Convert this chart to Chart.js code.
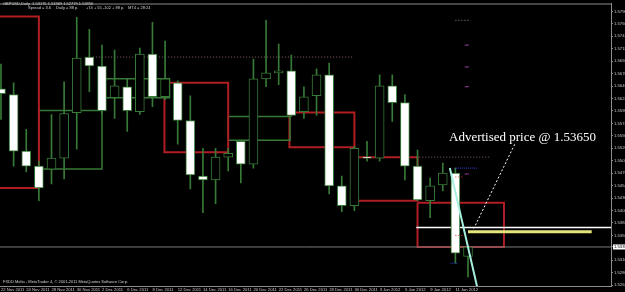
<!DOCTYPE html>
<html>
<head>
<meta charset="utf-8">
<script src="https://cdn.jsdelivr.net/npm/chart.js@4.4.0/dist/chart.umd.min.js"></script>
<style>
html, body { margin: 0; padding: 0; background: #000; }
#chart { display: block; }
</style>
</head>
<body>
<canvas id="chart" width="625" height="292"></canvas>
<script>
// GBPUSD daily bars, 22 Nov 2011 .. 12 Jan 2012
const dates = ['22 Nov 2011', '23 Nov 2011', '24 Nov 2011', '25 Nov 2011', '28 Nov 2011', '29 Nov 2011', '30 Nov 2011',
  '1 Dec 2011', '2 Dec 2011', '5 Dec 2011', '6 Dec 2011', '7 Dec 2011', '8 Dec 2011', '9 Dec 2011',
  '12 Dec 2011', '13 Dec 2011', '14 Dec 2011', '15 Dec 2011', '16 Dec 2011', '19 Dec 2011', '20 Dec 2011',
  '21 Dec 2011', '22 Dec 2011', '23 Dec 2011', '26 Dec 2011', '27 Dec 2011', '28 Dec 2011', '29 Dec 2011',
  '30 Dec 2011', '2 Jan 2012', '3 Jan 2012', '4 Jan 2012', '5 Jan 2012', '6 Jan 2012', '9 Jan 2012',
  '10 Jan 2012', '11 Jan 2012', '12 Jan 2012'];
const opens = [1.56408, 1.56294, 1.55204, 1.54917, 1.54859, 1.55070, 1.55949, 1.57020, 1.56848, 1.56236,
  1.56447, 1.55968, 1.57078, 1.56255, 1.56523, 1.55796, 1.54725, 1.54649, 1.55089, 1.55395,
  1.54955, 1.56600, 1.56714, 1.56753, 1.55968, 1.56274, 1.56676, 1.54534, 1.54152, 1.55089,
  1.55070, 1.56466, 1.56141, 1.54917, 1.54247, 1.54553, 1.54783, 1.53175];
const highs = [1.56886, 1.56523, 1.55624, 1.55012, 1.55911, 1.56542, 1.57785, 1.57556, 1.57250, 1.57154,
  1.56600, 1.57192, 1.57690, 1.57326, 1.56561, 1.56274, 1.55261, 1.55261, 1.55261, 1.55414,
  1.56982, 1.57728, 1.57269, 1.57059, 1.56447, 1.56791, 1.56906, 1.54725, 1.55299, 1.55395,
  1.56676, 1.56676, 1.56294, 1.55223, 1.54687, 1.54974, 1.54878, 1.53369];
const lows = [1.55815, 1.54917, 1.54802, 1.54247, 1.54572, 1.54668, 1.55242, 1.56351, 1.55930, 1.55835,
  1.55586, 1.55911, 1.56064, 1.56198, 1.55337, 1.54477, 1.54018, 1.54190, 1.54821, 1.54592,
  1.54878, 1.56447, 1.56485, 1.55873, 1.55835, 1.55892, 1.54381, 1.54037, 1.54056, 1.55012,
  1.55012, 1.55777, 1.54649, 1.54247, 1.53922, 1.54439, 1.53043, 1.52779];
const closes = [1.56313, 1.55204, 1.54917, 1.54496, 1.55070, 1.55930, 1.57001, 1.56848, 1.55988, 1.56466,
  1.55988, 1.57078, 1.56255, 1.56600, 1.55796, 1.54745, 1.54649, 1.55089, 1.55165, 1.54955,
  1.56600, 1.56714, 1.56753, 1.55892, 1.56255, 1.56676, 1.54534, 1.54152, 1.55261, 1.55070,
  1.56466, 1.56141, 1.54917, 1.54266, 1.54534, 1.54783, 1.53234, 1.53356];

// weekly open/close boxes (x in bar index units)
const weekStart = [-2, 3, 8, 12.95, 18, 22.85, 28, 33];
const weekEnd = [3, 8, 13.35, 18, 22.9, 28, 33, 39.85];
const weekOpen = [1.57804, 1.54859, 1.56236, 1.56523, 1.55414, 1.55949, 1.55089, 1.54209];
const weekClose = [1.54496, 1.55988, 1.56600, 1.55184, 1.55873, 1.55280, 1.54247, 1.53356];

// small indicator marks above the last bars
const markX = [36.9, 36.9, 36.9, 36.9];
const markY = [1.57250, 1.56829, 1.56447, 1.54764];

// price axis labels
const yTicks = [1.5790, 1.5766, 1.5742, 1.5718, 1.5694, 1.5670, 1.5646, 1.5622, 1.5598, 1.5574, 1.5550,
  1.5526, 1.5502, 1.5478, 1.5454, 1.5430, 1.5406, 1.5382, 1.5358, 1.53356, 1.5310, 1.5286, 1.5262];

const BID = 1.53356;
const ADVERTISED = 1.53650;
const WHITE_LEVEL = 1.53731;
const OLD_HIGH = 1.57020;
const OLD_LEVEL = 1.55089;
const TOP_LEVEL = 1.57728;

// trend line and pointer
const trendX = [35.56, 37.75];
const trendY = [1.54878, 1.52560];
const pointerX = [40.7, 37.46];
const pointerY = [1.55337, 1.53712];

const XMIN = -0.08, XMAX = 48.33;
const YMIN = 1.52603, YMAX = 1.58053;

const GREEN = '#377a37';
const RED = '#b01e24';

function seg(xs, ys, color, width, dash, order) {
  return {
    type: 'line',
    data: xs.map((x, i) => ({ x, y: ys[i] })),
    borderColor: color, borderWidth: width, borderDash: dash || [],
    pointRadius: 0, fill: false, tension: 0, order
  };
}

const boxes = weekStart.map((s, i) => {
  const e = weekEnd[i], o = weekOpen[i], c = weekClose[i];
  const up = c > o;
  return seg([s, e, e, s, s], [o, o, c, c, o], up ? GREEN : RED, up ? 1.5 : 2, null, 5);
});

const datasets = [
  seg(trendX, trendY, '#a6efdf', 2, null, 0),
  seg([35.9, 37.8], [1.54878, 1.54878], '#3040d0', 1, [1, 1], 0),
  seg([35.6, 36.2], [1.53043, 1.53043], '#3040d0', 1, [1, 1], 0),
  seg([36.0, 36.6], [1.53578, 1.53578], '#c03030', 1, [1, 2], 0),
  seg([36.0, 36.6], [1.54706, 1.54706], '#c03030', 1, [1, 2], 0),
  {
    type: 'line', order: 0, showLine: false,
    data: markX.map((x, i) => ({ x, y: markY[i] })),
    pointStyle: 'line', pointRadius: 2, borderColor: '#a040a0', borderWidth: 1
  },
  {
    type: 'bar', order: 1, grouped: false, barThickness: 9,
    data: dates.map((d, i) => ({ x: i, y: [opens[i], closes[i]] })),
    backgroundColor: dates.map((d, i) => closes[i] >= opens[i] ? '#000' : '#fff'),
    borderColor: GREEN, borderWidth: 1, borderSkipped: false
  },
  {
    type: 'bar', order: 2, grouped: false, barThickness: 1,
    data: dates.map((d, i) => ({ x: i, y: [lows[i], highs[i]] })),
    backgroundColor: GREEN, borderWidth: 0
  },
  seg(pointerX, pointerY, '#ffffff', 1, [2, 2], 0),
  seg([37, 46.8], [ADVERTISED, ADVERTISED], '#e4e47a', 3, null, 3),
  seg([32.9, XMAX], [WHITE_LEVEL, WHITE_LEVEL], '#ffffff', 1.5, null, 3),
  seg([XMIN, XMAX], [BID, BID], '#7c7c7c', 1, null, 3),
  seg([7.3, 27.9], [OLD_HIGH, OLD_HIGH], '#8a6262', 1, [1, 2], 3),
  seg([32.9, 38.7], [OLD_LEVEL, OLD_LEVEL], '#8a6262', 1, [1, 2], 3),
  seg([36.0, 37.2], [TOP_LEVEL, TOP_LEVEL], '#8a8a8a', 1, [1, 2], 3),
  ...boxes
];

const textPlugin = {
  id: 'texts',
  afterDraw(chart) {
    const ctx = chart.ctx, a = chart.chartArea;
    ctx.save();
    ctx.strokeStyle = '#8c8c8c';
    ctx.lineWidth = 1;
    ctx.beginPath();
    ctx.moveTo(0, a.top + 0.5);
    ctx.lineTo(a.right, a.top + 0.5);
    ctx.stroke();
    ctx.fillStyle = '#d0d0d0';
    ctx.textBaseline = 'middle';
    ctx.font = '4px "Liberation Sans"';
    ctx.fillText('GBPUSD,Daily  1.53175 1.53369 1.52779 1.53356', 3, 4);
    ctx.fillText('Spread = 3.6', 28, 8);
    ctx.fillText('Daily = 88 p.', 56, 8);
    ctx.fillText('+74 + 55 -102 + 88 p.', 86, 8);
    ctx.fillText('MT4 = 28:24', 128, 8);
    ctx.fillText('FXDD Malta - MetaTrader 4, \u00a9 2001-2011 MetaQuotes Software Corp.', 3, 282);
    ctx.fillStyle = '#ffffff';
    ctx.textBaseline = 'alphabetic';
    ctx.font = '13px "Liberation Serif"';
    ctx.fillText('Advertised price @ 1.53650', 449, 141);
    ctx.restore();
  }
};

new Chart(document.getElementById('chart'), {
  type: 'bar',
  data: { datasets },
  options: {
    responsive: false,
    animation: false,
    layout: { autoPadding: false, padding: { top: 1, left: 0, right: 0, bottom: 0 } },
    plugins: { legend: { display: false }, tooltip: { enabled: false } },
    scales: {
      x: {
        type: 'linear', min: XMIN, max: XMAX, offset: false,
        afterFit: s => { s.height = 6; },
        afterBuildTicks: s => { s.ticks = dates.map((d, i) => i).filter(i => i % 2 === 0).map(v => ({ value: v })); },
        grid: { drawOnChartArea: false, drawTicks: true, tickLength: 1, color: '#8c8c8c', offset: false },
        border: { display: true, color: '#8c8c8c' },
        ticks: {
          autoSkip: false, maxRotation: 0, padding: 0, align: 'start',
          color: '#c8c8c8', font: { size: 4.2, family: 'Liberation Sans' },
          callback: v => dates[v]
        }
      },
      y: {
        position: 'right', min: YMIN, max: YMAX,
        afterFit: s => { s.width = 14; },
        afterBuildTicks: s => { s.ticks = yTicks.map(v => ({ value: v })); },
        grid: { drawOnChartArea: false, drawTicks: true, tickLength: 2, color: '#8c8c8c' },
        border: { display: true, color: '#8c8c8c' },
        ticks: {
          padding: 1,
          font: { size: 4.2, family: 'Liberation Sans' },
          color: c => (c.tick && c.tick.value === BID) ? '#000' : '#c8c8c8',
          showLabelBackdrop: c => !!(c.tick && c.tick.value === BID),
          backdropColor: '#ffffff',
          backdropPadding: { top: 0, bottom: 0, left: 1, right: 4 },
          callback: v => v.toFixed(5)
        }
      }
    }
  },
  plugins: [textPlugin]
});
</script>
</body>
</html>
